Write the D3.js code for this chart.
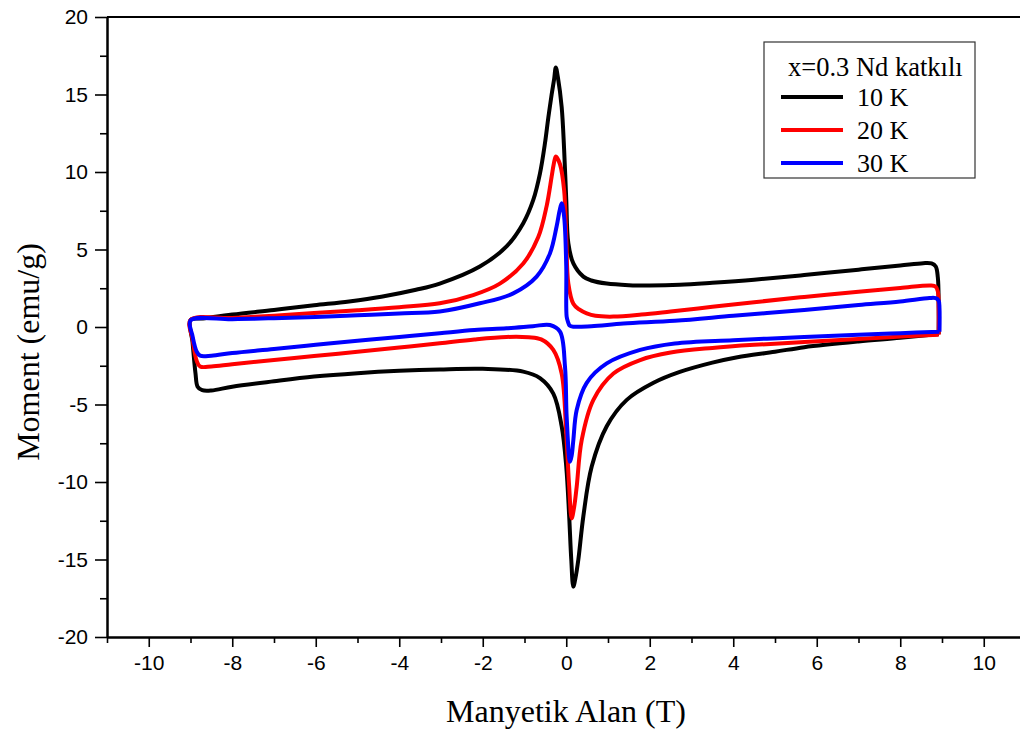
<!DOCTYPE html>
<html>
<head>
<meta charset="utf-8">
<script src="https://cdn.jsdelivr.net/npm/d3@7"></script>
<style>
  html, body { margin: 0; padding: 0; background: #fff; }
  svg { display: block; }
</style>
</head>
<body>
<svg id="chart" width="1020" height="735"></svg>
<script>
// ---- Data (H in T, M in emu/g), each loop traced as a closed path ----
const loop10K = [
  [8.92,-0.45],[8.92,1.5],[8.9,3.2],[8.85,3.9],[8.75,4.1],[8.55,4.12],
  [8.0,3.97],[7.0,3.7],[5.7,3.35],[4.5,3.05],[3.5,2.85],[2.72,2.72],[2.0,2.68],[1.5,2.7],[0.97,2.8],
  [0.6,3.0],[0.41,3.25],[0.17,4.1],[0.05,5.4],[0.0,8.2],[-0.05,11.4],[-0.11,14.2],[-0.2,16.1],[-0.25,16.75],
  [-0.29,16.0],[-0.35,15.0],[-0.43,13.5],[-0.51,11.85],[-0.63,9.9],[-0.79,8.2],[-1.03,6.7],[-1.43,5.2],
  [-2.07,3.9],[-3.03,2.8],[-3.6,2.4],[-4.43,1.95],[-5.2,1.65],[-6.04,1.4],[-7.0,1.1],[-8.0,0.8],[-8.7,0.55],[-9.0,0.45],
  [-8.95,-1.0],[-8.88,-3.0],[-8.83,-3.85],[-8.72,-4.08],[-8.5,-4.1],
  [-8.0,-3.85],[-7.0,-3.5],[-6.04,-3.2],[-5.0,-2.98],[-4.0,-2.83],[-3.03,-2.74],[-2.0,-2.7],[-1.03,-2.88],
  [-0.63,-3.3],[-0.31,-4.3],[-0.11,-6.4],[0.0,-9.0],[0.07,-12.2],[0.12,-15.0],[0.17,-16.75],[0.22,-16.2],
  [0.29,-15.0],[0.41,-12.2],[0.61,-9.0],[0.97,-6.4],[1.45,-4.7],[2.09,-3.6],[2.72,-2.9],[3.5,-2.3],
  [4.1,-1.95],[5.0,-1.6],[5.7,-1.3],[7.0,-0.93],[8.0,-0.7],[8.92,-0.45]
];
const loop20K = [
  [8.92,-0.5],[8.92,1.2],[8.9,2.3],[8.85,2.6],[8.74,2.68],
  [8.0,2.52],[7.0,2.28],[5.7,1.94],[4.5,1.6],[3.5,1.3],[2.5,1.0],[1.8,0.8],[1.13,0.67],[0.7,0.72],[0.49,0.88],
  [0.3,1.15],[0.17,1.5],[0.05,2.8],[0.0,5.8],[-0.05,8.8],[-0.15,10.5],[-0.25,11.0],[-0.3,10.5],[-0.35,9.7],
  [-0.47,7.8],[-0.67,5.8],[-1.03,4.1],[-1.59,2.8],[-2.23,2.06],[-3.03,1.53],[-4.0,1.28],[-5.0,1.08],[-6.04,0.9],
  [-7.0,0.73],[-8.0,0.58],[-9.0,0.45],
  [-8.95,-0.8],[-8.85,-2.2],[-8.77,-2.55],[-8.5,-2.55],
  [-8.0,-2.4],[-7.0,-2.13],[-6.04,-1.87],[-5.0,-1.6],[-4.0,-1.33],[-3.03,-1.05],[-2.2,-0.8],[-1.43,-0.64],
  [-0.9,-0.66],[-0.6,-0.8],[-0.31,-1.48],[-0.11,-3.0],[0.0,-6.9],[0.07,-10.3],[0.13,-12.35],[0.19,-11.6],
  [0.25,-10.3],[0.37,-7.3],[0.65,-4.7],[1.13,-3.0],[1.77,-2.13],[2.5,-1.65],[3.5,-1.35],[4.5,-1.15],
  [5.7,-0.97],[7.0,-0.78],[8.0,-0.62],[8.92,-0.5]
];
const loop30K = [
  [8.94,-0.3],[8.94,1.2],[8.92,1.7],[8.85,1.86],[8.7,1.87],
  [8.0,1.65],[7.0,1.42],[5.7,1.1],[4.0,0.72],[2.6,0.4],[1.37,0.22],[0.6,0.05],[0.17,0.02],[0.08,0.1],
  [0.04,0.35],[0.01,0.66],[0.0,3.9],[-0.05,7.1],[-0.11,7.98],[-0.16,7.5],[-0.23,6.5],[-0.39,4.75],
  [-0.71,3.25],[-1.27,2.17],[-2.07,1.53],[-3.03,1.0],[-4.0,0.87],[-5.0,0.76],[-6.0,0.65],[-7.0,0.57],
  [-8.0,0.5],[-9.0,0.42],
  [-8.95,-0.6],[-8.85,-1.6],[-8.77,-1.85],[-8.5,-1.85],
  [-8.0,-1.68],[-7.0,-1.42],[-6.0,-1.15],[-5.0,-0.88],[-4.0,-0.64],[-3.03,-0.4],[-2.2,-0.2],[-1.43,-0.08],
  [-0.8,0.05],[-0.39,0.13],[-0.15,-0.3],[-0.03,-2.56],[0.01,-5.8],[0.09,-8.7],[0.13,-8.3],[0.17,-7.3],
  [0.25,-5.35],[0.49,-3.6],[0.97,-2.35],[1.77,-1.48],[2.6,-1.06],[4.0,-0.85],[5.7,-0.65],[7.0,-0.5],
  [8.0,-0.4],[8.94,-0.3]
];
const seriesNames = ["10 K", "20 K", "30 K"];
const seriesColors = ["#000000", "#ff0000", "#0000ff"];
const legendTitle = "x=0.3 Nd katkılı";
const xTicks = [-10,-8,-6,-4,-2,0,2,4,6,8,10];
const xMinorTicks = [-11,-9,-7,-5,-3,-1,1,3,5,7,9,11];
const yTicks = [-20,-15,-10,-5,0,5,10,15,20];
const yMinorTicks = [-17.5,-12.5,-7.5,-2.5,2.5,7.5,12.5,17.5];
const xLabel = "Manyetik Alan (T)";
const yLabel = "Moment (emu/g)";

// ---- Layout ----
const svg = d3.select("#chart");
const pLeft = 107, pRight = 1025.5, pTop = 17, pBottom = 637;
const x = d3.scaleLinear().domain([-11, 11]).range([pLeft, pRight]);
const y = d3.scaleLinear().domain([-20, 20]).range([pBottom, pTop]);

const tickFont = "'Liberation Sans', Arial, sans-serif";
const serif = "'Liberation Serif', 'Times New Roman', serif";

// frame top/right
svg.append("path")
  .attr("d", `M${pLeft},${pTop}H${pRight}V${pBottom}`)
  .attr("fill", "none").attr("stroke", "#000").attr("stroke-width", 2);

// Axes
const gx = svg.append("g").attr("transform", `translate(0,${pBottom})`)
  .call(d3.axisBottom(x).tickValues(xTicks).tickFormat(d => String(d))
    .tickSize(10).tickPadding(8).tickSizeOuter(0));
const gxm = svg.append("g").attr("transform", `translate(0,${pBottom})`)
  .call(d3.axisBottom(x).tickValues(xMinorTicks).tickFormat("").tickSize(6).tickSizeOuter(0));
const gy = svg.append("g").attr("transform", `translate(${pLeft},0)`)
  .call(d3.axisLeft(y).tickValues(yTicks).tickFormat(d => String(d))
    .tickSize(12).tickPadding(7).tickSizeOuter(0));
const gym = svg.append("g").attr("transform", `translate(${pLeft},0)`)
  .call(d3.axisLeft(y).tickValues(yMinorTicks).tickFormat("").tickSize(7).tickSizeOuter(0));

[gx, gxm, gy, gym].forEach(g => {
  g.select(".domain").attr("stroke", "#000").attr("stroke-width", 2);
  g.selectAll(".tick line").attr("stroke", "#000").attr("stroke-width", 1.6);
  g.selectAll(".tick text").attr("fill", "#000")
    .style("font-family", tickFont).style("font-size", "21px");
});

// Axis titles
svg.append("text")
  .attr("x", 566).attr("y", 722)
  .attr("text-anchor", "middle")
  .style("font-family", serif).style("font-size", "32px")
  .text(xLabel);
svg.append("text")
  .attr("transform", "translate(39,352) rotate(-90)")
  .attr("text-anchor", "middle")
  .style("font-family", serif).style("font-size", "32px")
  .text(yLabel);

// Curves
const line = d3.line()
  .x(d => x(d[0])).y(d => y(d[1]))
  .curve(d3.curveCatmullRom.alpha(0.5));

const loops = [loop10K, loop20K, loop30K];
svg.append("g").selectAll("path")
  .data(loops)
  .join("path")
  .attr("d", d => line(d))
  .attr("fill", "none")
  .attr("stroke", (d, i) => seriesColors[i])
  .attr("stroke-width", 4)
  .attr("stroke-linejoin", "round");

// Legend
const lg = svg.append("g");
lg.append("rect")
  .attr("x", 764).attr("y", 42).attr("width", 211).attr("height", 136)
  .attr("fill", "#fff").attr("stroke", "#333").attr("stroke-width", 1.2);
lg.append("text")
  .attr("x", 788).attr("y", 76)
  .style("font-family", serif).style("font-size", "26.5px")
  .text(legendTitle);
const legY = [97, 130, 163];
seriesNames.forEach((name, i) => {
  lg.append("line")
    .attr("x1", 781).attr("x2", 843).attr("y1", legY[i]).attr("y2", legY[i])
    .attr("stroke", seriesColors[i]).attr("stroke-width", 4);
  lg.append("text")
    .attr("x", 857).attr("y", legY[i] + 9)
    .style("font-family", serif).style("font-size", "26px")
    .text(name);
});
</script>
</body>
</html>
